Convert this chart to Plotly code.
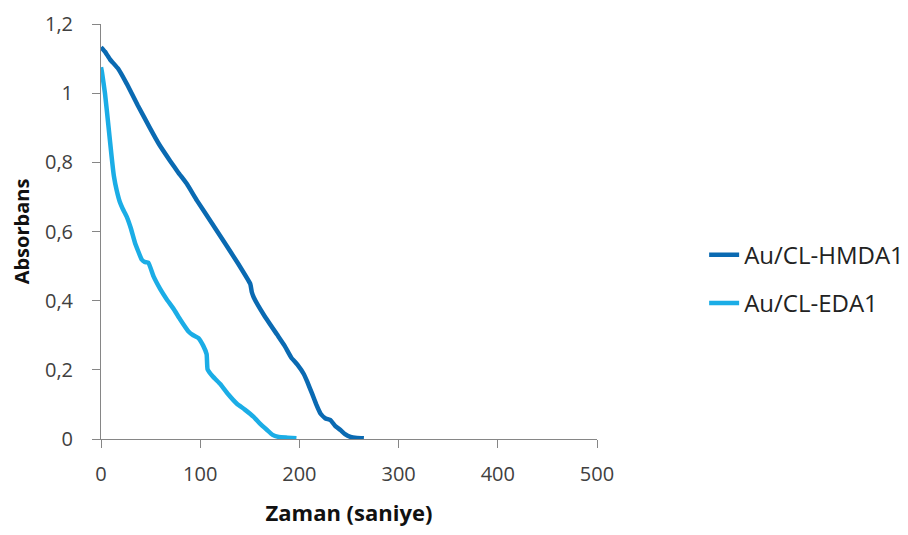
import plotly.graph_objects as go


# ==========================
# DATA
# ==========================

hmda_time = [0, 4, 9, 17.5, 26, 37, 49.4, 59, 69.7, 78, 86.5, 96.6, 111.8, 125, 138, 150.5,
             152, 153.9, 165, 177.5, 185, 191.9, 198, 204.4, 208, 212.8, 217, 221.2, 226,
             231.3, 236, 241.4, 246, 251.5, 258, 265]
hmda_abs = [1.133, 1.12, 1.098, 1.07, 1.027, 0.965, 0.899, 0.85, 0.804, 0.77, 0.738, 0.69,
            0.624, 0.566, 0.508, 0.448, 0.425, 0.41, 0.355, 0.302, 0.27, 0.235, 0.215, 0.188,
            0.165, 0.131, 0.1, 0.074, 0.06, 0.055, 0.038, 0.026, 0.014, 0.006, 0.003, 0.002]

eda_time = [0, 1, 4, 7.4, 10.8, 13, 15.8, 19, 22, 25.9, 30, 34.3, 41, 44, 47.8, 53, 59.6,
            66, 73, 80, 88.2, 93, 98.3, 103, 106.5, 107.4, 113, 120.2, 128, 137, 145,
            153.9, 160, 167.4, 173, 179.1, 188, 197]
eda_abs = [1.075, 1.06, 1.0, 0.908, 0.814, 0.76, 0.719, 0.685, 0.665, 0.643, 0.61, 0.567,
           0.519, 0.512, 0.51, 0.47, 0.434, 0.405, 0.377, 0.345, 0.311, 0.3, 0.292, 0.27,
           0.245, 0.202, 0.18, 0.159, 0.13, 0.102, 0.085, 0.064, 0.045, 0.026, 0.012, 0.006,
           0.004, 0.002]

x_ticks = [0, 100, 200, 300, 400, 500]
y_ticks = [0, 0.2, 0.4, 0.6, 0.8, 1.0, 1.2]


# ==========================
# FIGURE
# ==========================

FONT = "Open Sans"
AXIS_COLOR = "#868686"

fig = go.Figure()

fig.add_trace(go.Scatter(
    x=hmda_time,
    y=hmda_abs,
    mode="lines",
    name="Au/CL-HMDA1",
    legendgroup="hmda",
    line=dict(color="#0A6AB2", width=4.5, shape="spline", smoothing=0.3)
))

fig.add_trace(go.Scatter(
    x=eda_time,
    y=eda_abs,
    mode="lines",
    name="Au/CL-EDA1",
    legendgroup="eda",
    line=dict(color="#1BADE6", width=4.5, shape="spline", smoothing=0.3)
))

# page body has an 8px margin, so the figure is a little smaller than the window
fig.update_layout(
    width=900,
    height=527,
    template="plotly_white",
    plot_bgcolor="white",
    paper_bgcolor="white",
    separators=",.",
    margin=dict(l=93, r=311, t=16, b=96, autoexpand=False),
    font=dict(family=FONT, size=20, color="#404040"),
    legend=dict(
        x=1.216,
        y=0.385,
        xanchor="left",
        yanchor="middle",
        font=dict(family=FONT, size=24, color="#222222"),
        tracegroupgap=14,
        bgcolor="rgba(0,0,0,0)"
    ),
    showlegend=True
)

fig.update_xaxes(
    range=[0, 500],
    tickvals=x_ticks,
    showgrid=False,
    zeroline=False,
    showline=True,
    linecolor=AXIS_COLOR,
    linewidth=1,
    ticks="outside",
    ticklen=8,
    tickcolor=AXIS_COLOR,
    ticklabelstandoff=9,
    automargin=False,
    title=dict(text="<b>Zaman (saniye)</b>", font=dict(family=FONT, size=22, color="#111111"),
               standoff=19)
)

fig.update_yaxes(
    range=[0, 1.2],
    tickvals=y_ticks,
    showgrid=False,
    zeroline=False,
    showline=True,
    linecolor=AXIS_COLOR,
    linewidth=1,
    ticks="outside",
    ticklen=8,
    tickcolor=AXIS_COLOR,
    ticklabelstandoff=15,
    ticklabeloverflow="allow",
    automargin=False,
    title=dict(text="<b>Absorbans</b>", font=dict(family=FONT, size=20, color="#111111"),
               standoff=16)
)

fig.write_html("out.html")
